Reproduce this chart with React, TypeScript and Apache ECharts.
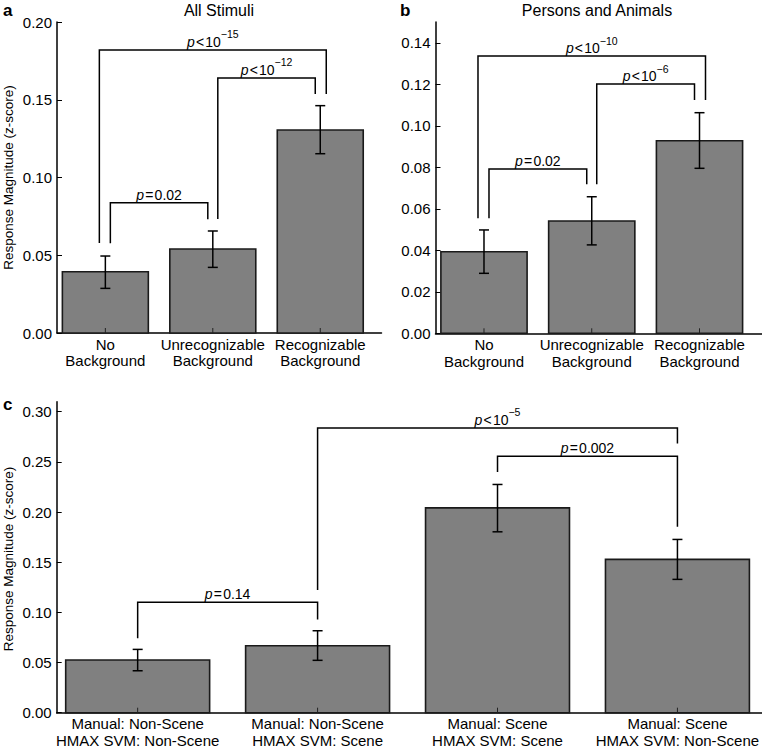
import React, { useEffect, useRef } from 'react';
import * as echarts from 'echarts';

const FONT = "'Liberation Sans', Arial, Helvetica, sans-serif";

// ---------- Panel a: All Stimuli ----------
const titleA = 'All Stimuli';
const catsA = ['No\nBackground', 'Unrecognizable\nBackground', 'Recognizable\nBackground'];
const meanA = [0.0394, 0.054, 0.1305];
const lowA = [0.0287, 0.0422, 0.1153];
const highA = [0.0495, 0.0656, 0.1462];
// [from, to, bracket height, leg bottom at from, leg bottom at to]
const bracketsA = [
  [0, 2, 0.182, 0.0579, 0.1537],
  [1, 2, 0.164, 0.0733, 0.1537],
  [0, 1, 0.0838, 0.0577, 0.0731],
];
// [relation, value, exponent]
const pLabelsA = [
  ['<', '10', '\u221215'],
  ['<', '10', '\u221212'],
  ['=', '0.02', ''],
];

// ---------- Panel b: Persons and Animals ----------
const titleB = 'Persons and Animals';
const catsB = ['No\nBackground', 'Unrecognizable\nBackground', 'Recognizable\nBackground'];
const meanB = [0.0393, 0.0541, 0.0928];
const lowB = [0.0289, 0.0426, 0.0795];
const highB = [0.0498, 0.0658, 0.1063];
const bracketsB = [
  [0, 2, 0.1336, 0.0554, 0.1124],
  [1, 2, 0.1201, 0.0718, 0.1124],
  [0, 1, 0.0792, 0.0554, 0.0718],
];
const pLabelsB = [
  ['<', '10', '\u221210'],
  ['<', '10', '\u22126'],
  ['=', '0.02', ''],
];

// ---------- Panel c ----------
const catsC = [
  'Manual: Non-Scene\nHMAX SVM: Non-Scene',
  'Manual: Non-Scene\nHMAX SVM: Scene',
  'Manual: Scene\nHMAX SVM: Scene',
  'Manual: Scene\nHMAX SVM: Non-Scene',
];
const meanC = [0.0525, 0.0667, 0.2042, 0.1528];
const lowC = [0.0418, 0.0522, 0.1803, 0.1329];
const highC = [0.0631, 0.0817, 0.2275, 0.1727];
const bracketsC = [
  [1, 3, 0.2839, 0.1222, 0.2683],
  [2, 3, 0.2557, 0.24, 0.1853],
  [0, 1, 0.11, 0.0741, 0.093],
];
const pLabelsC = [
  ['<', '10', '\u22125'],
  ['=', '0.002', ''],
  ['=', '0.14', ''],
];

const yNameText = 'Response Magnitude (z-score)';

// style constants (pixel offsets of bracket legs)
const legOffsetsAB = [
  [-6, 6],
  [5, -5],
  [5, -5],
];
const legOffsetsC = [
  [0, 0],
  [0, 0],
  [0, 0],
];

const BAR_HALF = 0.4;

function richLabel(l: string[]) {
  const [rel, val, exp] = l;
  let s = `{i|p}{m|\u200A${rel}\u200A${val}}`;
  if (exp) s += `{s|${exp}}`;
  return s;
}

const rich = {
  i: { fontStyle: 'italic', fontSize: 14, fontFamily: FONT, lineHeight: 26, fill: '#000', color: '#000' },
  m: { fontSize: 14, fontFamily: FONT, lineHeight: 26, fill: '#000', color: '#000' },
  s: {
    fontSize: 10.5,
    fontFamily: FONT,
    lineHeight: 8,
    verticalAlign: 'top',
    textVerticalAlign: 'top',
    fill: '#000',
    color: '#000',
  },
};

function panelSeries(
  gi: number,
  cats: string[],
  mean: number[],
  low: number[],
  high: number[],
  brackets: number[][],
  pLabels: string[][],
  legOffsets: number[][]
) {
  const barSeries = {
    type: 'custom',
    xAxisIndex: gi,
    yAxisIndex: gi,
    data: mean.map((v, i) => [i, v]),
    renderItem: (params: any, api: any) => {
      const i = api.value(0);
      const v = api.value(1);
      const tl = api.coord([i - BAR_HALF, v]);
      const br = api.coord([i + BAR_HALF, 0]);
      return {
        type: 'rect',
        shape: { x: tl[0], y: tl[1], width: br[0] - tl[0], height: br[1] - tl[1] },
        style: { fill: '#808080', stroke: '#1a1a1a', lineWidth: 1.6 },
      };
    },
  };
  const tickSeries = {
    type: 'custom',
    xAxisIndex: gi,
    yAxisIndex: gi,
    clip: false,
    data: cats.map((_, i) => [i, 0]),
    renderItem: (params: any, api: any) => {
      const i = api.value(0);
      const p = api.coord([i, 0]);
      return {
        type: 'group',
        children: [
          {
            type: 'line',
            shape: { x1: p[0], y1: p[1], x2: p[0], y2: p[1] - 5 },
            style: { stroke: '#222', lineWidth: 1 },
          },
          {
            type: 'text',
            x: p[0],
            y: p[1] + 3,
            style: {
              text: cats[params.dataIndex],
              fill: '#000',
              fontSize: 15,
              fontFamily: FONT,
              lineHeight: 16.5,
              textAlign: 'center',
              align: 'center',
              textVerticalAlign: 'top',
              verticalAlign: 'top',
            },
          },
        ],
      };
    },
  };
  const errSeries = {
    type: 'custom',
    xAxisIndex: gi,
    yAxisIndex: gi,
    data: mean.map((_, i) => [i, low[i], high[i]]),
    renderItem: (params: any, api: any) => {
      const i = api.value(0);
      const lo = api.coord([i, api.value(1)]);
      const hi = api.coord([i, api.value(2)]);
      const st = { stroke: '#000', lineWidth: 1.5 };
      return {
        type: 'group',
        children: [
          { type: 'line', shape: { x1: lo[0], y1: lo[1], x2: hi[0], y2: hi[1] }, style: st },
          { type: 'line', shape: { x1: lo[0] - 5, y1: lo[1], x2: lo[0] + 5, y2: lo[1] }, style: st },
          { type: 'line', shape: { x1: hi[0] - 5, y1: hi[1], x2: hi[0] + 5, y2: hi[1] }, style: st },
        ],
      };
    },
  };
  const bracketSeries = {
    type: 'custom',
    xAxisIndex: gi,
    yAxisIndex: gi,
    clip: false,
    data: brackets,
    renderItem: (params: any, api: any) => {
      const idx = params.dataIndex;
      const from = api.value(0);
      const to = api.value(1);
      const y = api.value(2);
      const b0 = api.value(3);
      const b1 = api.value(4);
      const [dx0, dx1] = legOffsets[idx];
      const p0 = api.coord([from, b0]);
      const p1 = api.coord([from, y]);
      const p2 = api.coord([to, y]);
      const p3 = api.coord([to, b1]);
      return {
        type: 'group',
        children: [
          {
            type: 'polyline',
            shape: {
              points: [
                [p0[0] + dx0, p0[1]],
                [p1[0] + dx0, p1[1]],
                [p2[0] + dx1, p2[1]],
                [p3[0] + dx1, p3[1]],
              ],
            },
            style: { stroke: '#000', lineWidth: 1.5, fill: 'none' },
          },
          {
            type: 'text',
            x: (p1[0] + p2[0]) / 2,
            y: p1[1] - 8,
            style: {
              text: richLabel(pLabels[idx]),
              rich,
              fill: '#000',
              fontSize: 14,
              fontFamily: FONT,
              textAlign: 'center',
              align: 'center',
              textVerticalAlign: 'middle',
              verticalAlign: 'middle',
            },
          },
        ],
      };
    },
  };
  return [barSeries, errSeries, tickSeries, bracketSeries];
}

function xAxisOf(gi: number, min: number, max: number) {
  return {
    type: 'value',
    gridIndex: gi,
    min,
    max,
    axisLine: { show: true, onZero: false, lineStyle: { color: '#000', width: 1.5 } },
    axisTick: { show: false },
    axisLabel: { show: false },
    splitLine: { show: false },
  };
}

function yAxisOf(gi: number, max: number, interval: number, showMax: boolean) {
  return {
    type: 'value',
    gridIndex: gi,
    min: 0,
    max,
    interval,
    axisLine: { show: true, onZero: false, lineStyle: { color: '#000', width: 1.5 } },
    axisTick: { show: true, inside: true, length: 5, lineStyle: { color: '#000', width: 1 } },
    axisLabel: {
      show: true,
      margin: 5,
      color: '#000',
      fontSize: 15,
      fontFamily: FONT,
      showMaxLabel: showMax,
      formatter: (v: number) => v.toFixed(2),
    },
    splitLine: { show: false },
  };
}

export default function App() {
  const ref = useRef<HTMLDivElement>(null);
  useEffect(() => {
    if (!ref.current) return;
    const chart = echarts.init(ref.current, null, { renderer: 'svg' });
    const option: any = {
      animation: false,
      backgroundColor: '#fff',
      grid: [
        { left: 57, top: 22, width: 324.5, height: 311 },
        { left: 435.5, top: 22, width: 326.5, height: 311.3 },
        { left: 56.7, top: 401.7, width: 705.3, height: 311 },
      ],
      xAxis: [xAxisOf(0, -0.45, 2.57), xAxisOf(1, -0.45, 2.58), xAxisOf(2, -0.45, 3.47)],
      yAxis: [yAxisOf(0, 0.2, 0.05, true), yAxisOf(1, 0.15, 0.02, false), yAxisOf(2, 0.31, 0.05, false)],
      series: [
        ...panelSeries(0, catsA, meanA, lowA, highA, bracketsA, pLabelsA, legOffsetsAB),
        ...panelSeries(1, catsB, meanB, lowB, highB, bracketsB, pLabelsB, legOffsetsAB),
        ...panelSeries(2, catsC, meanC, lowC, highC, bracketsC, pLabelsC, legOffsetsC),
      ],
      graphic: [
        { type: 'text', left: 3, top: 2, style: { text: 'a', fill: '#000', font: `bold 17px ${FONT}` } },
        { type: 'text', left: 400, top: 2, style: { text: 'b', fill: '#000', font: `bold 17px ${FONT}` } },
        { type: 'text', left: 3, top: 396, style: { text: 'c', fill: '#000', font: `bold 17px ${FONT}` } },
        {
          type: 'text',
          x: 219,
          y: 10,
          style: { text: titleA, fill: '#000', font: `16px ${FONT}`, textAlign: 'center', textVerticalAlign: 'middle' },
        },
        {
          type: 'text',
          x: 597,
          y: 10,
          style: { text: titleB, fill: '#000', font: `16px ${FONT}`, textAlign: 'center', textVerticalAlign: 'middle' },
        },
        {
          type: 'text',
          x: 8,
          y: 177.5,
          rotation: Math.PI / 2,
          style: { text: yNameText, fill: '#000', font: `13.5px ${FONT}`, textAlign: 'center', textVerticalAlign: 'middle' },
        },
        {
          type: 'text',
          x: 8,
          y: 559,
          rotation: Math.PI / 2,
          style: { text: yNameText, fill: '#000', font: `13.5px ${FONT}`, textAlign: 'center', textVerticalAlign: 'middle' },
        },
      ],
    };
    chart.setOption(option);
    return () => chart.dispose();
  }, []);
  return (
    <div
      ref={ref}
      style={{ position: 'absolute', left: 0, top: 0, width: 762, height: 748, background: '#fff' }}
    />
  );
}
